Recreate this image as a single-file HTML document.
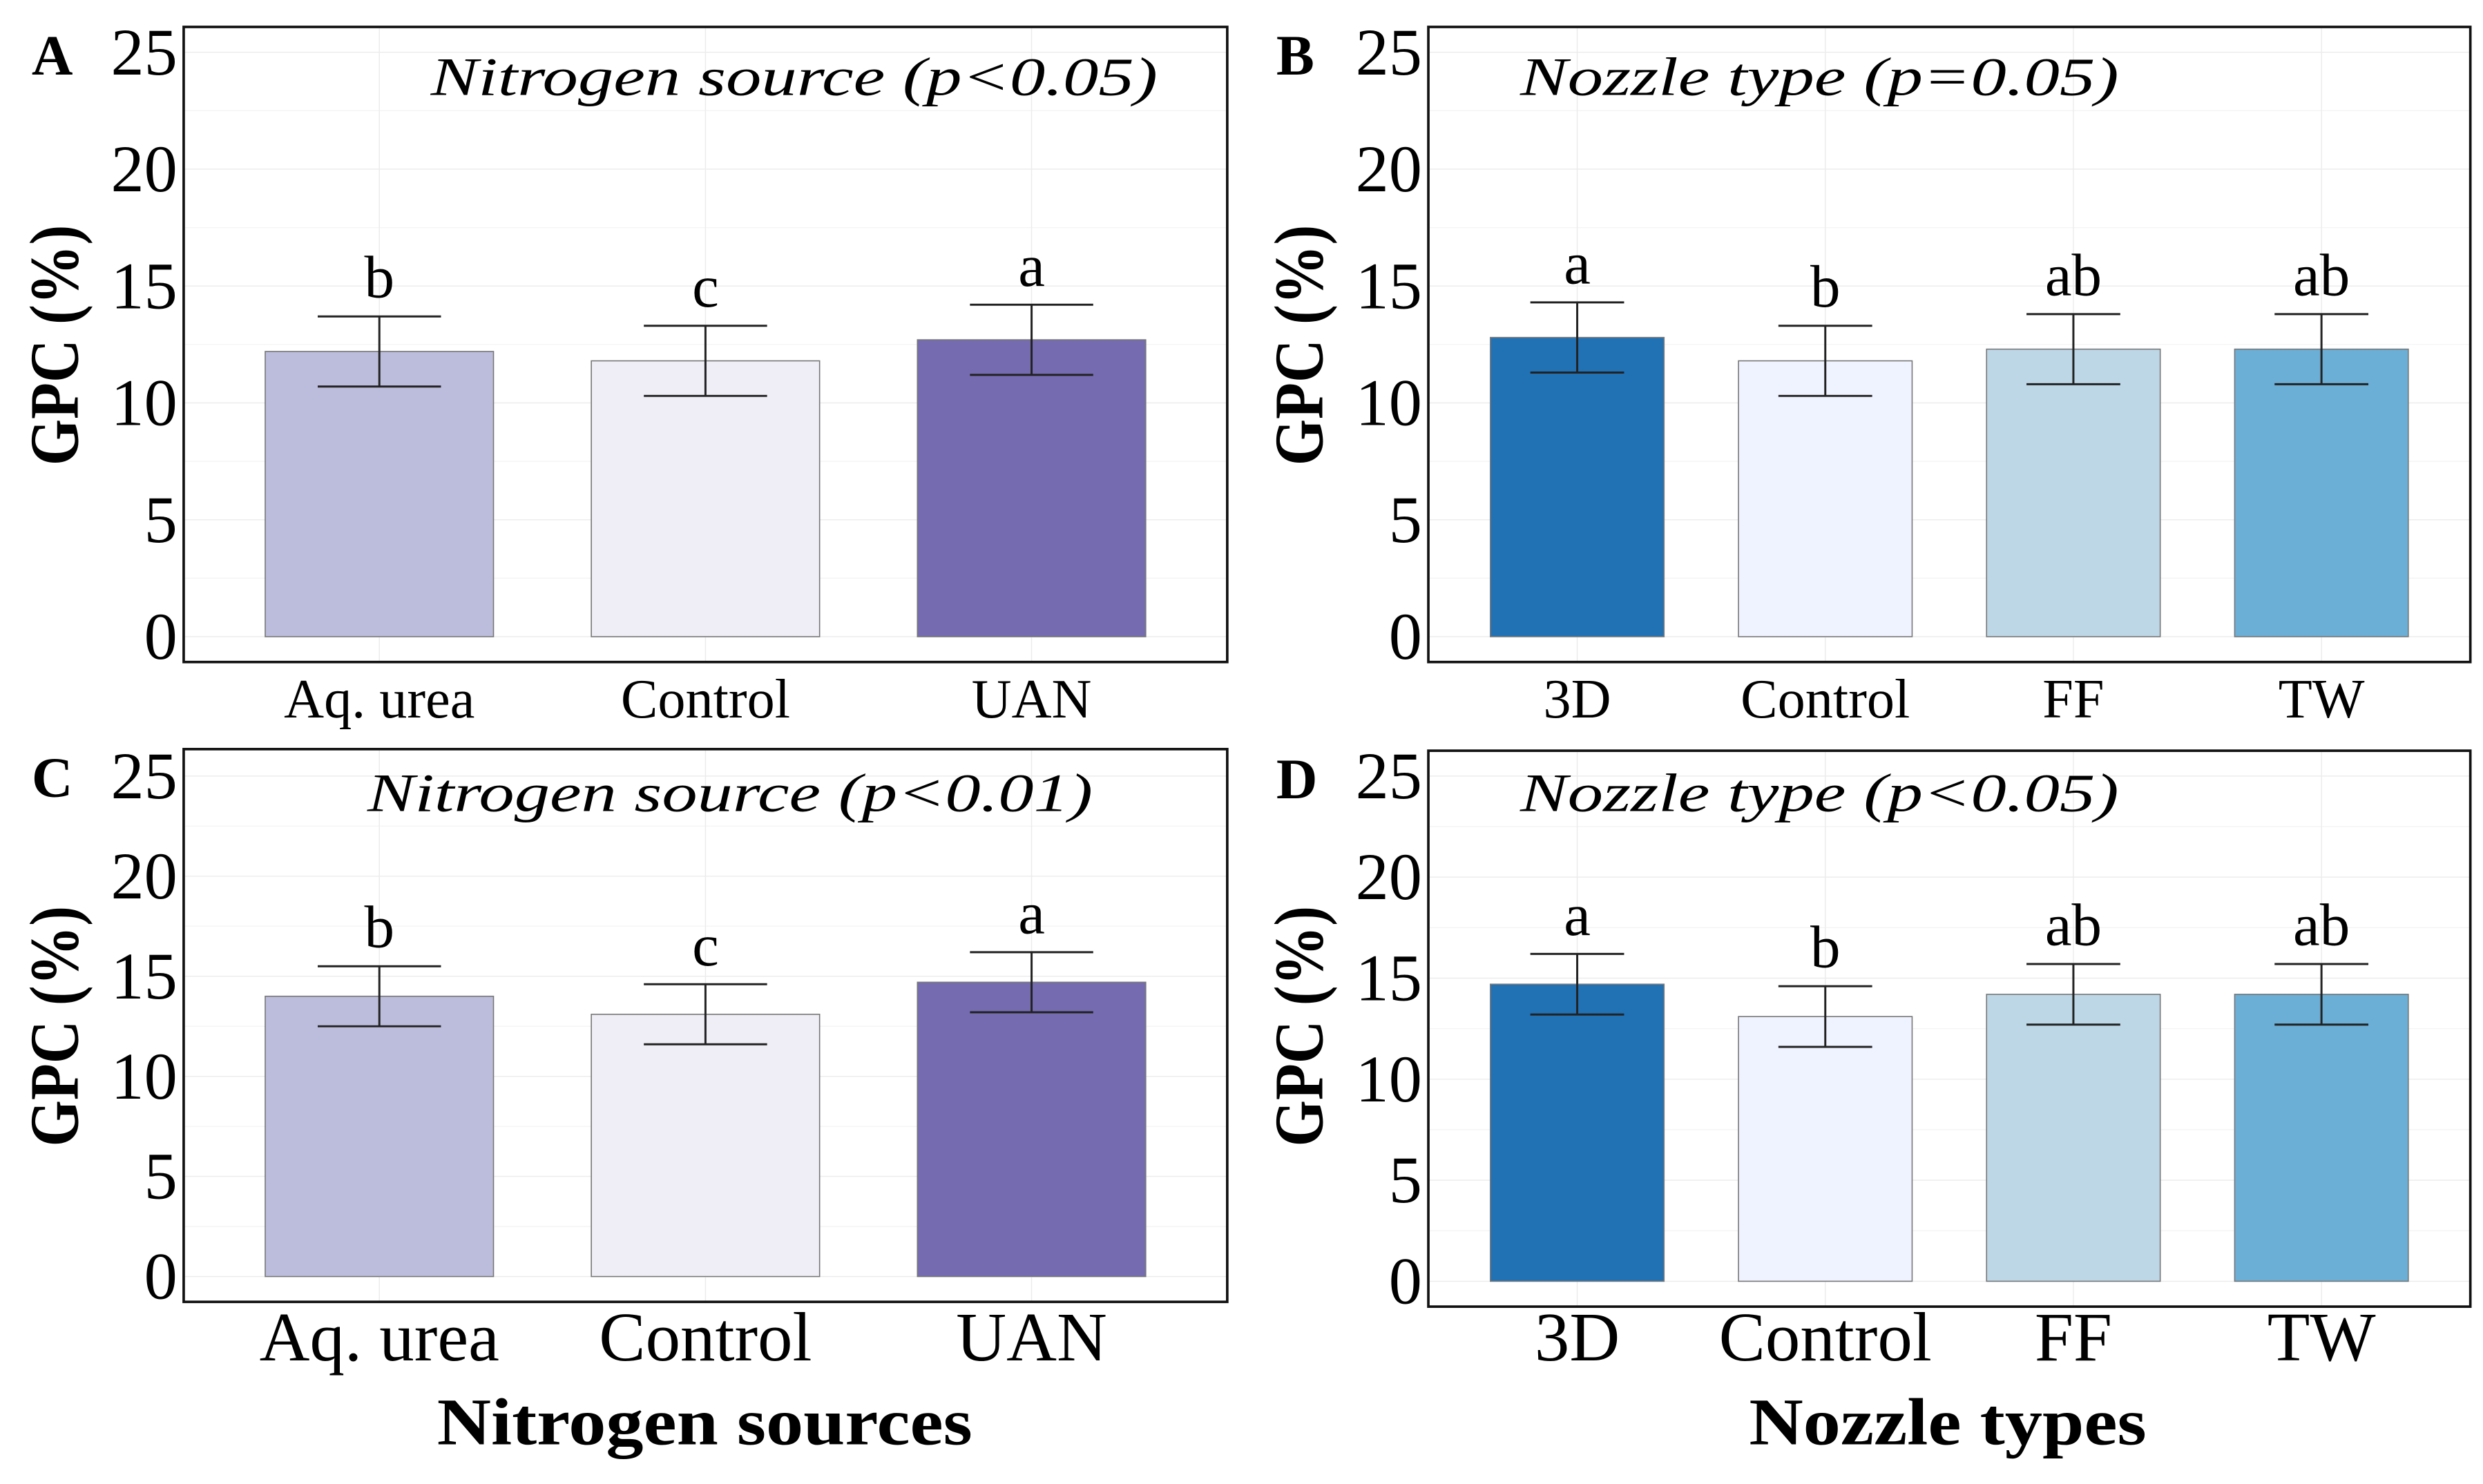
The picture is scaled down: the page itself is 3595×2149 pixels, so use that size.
<!DOCTYPE html>
<html><head><meta charset="utf-8"><style>
html,body{margin:0;padding:0;background:#fff}
svg{display:block}
text{font-family:"Liberation Serif",serif;fill:#000}
</style></head><body>
<svg id="fig" width="3595" height="2149" viewBox="0 0 1568 937" preserveAspectRatio="none" xmlns="http://www.w3.org/2000/svg"></svg>
<script>
const nCats = ["Aq. urea","Control","UAN"];
const zCats = ["3D","Control","FF","TW"];
const aVals = [12.2,11.8,12.7];
const aErr = [1.5,1.5,1.5];
const aLet = ["b","c","a"];
const bVals = [12.8,11.8,12.3,12.3];
const bErr = [1.5,1.5,1.5,1.5];
const bLet = ["a","b","ab","ab"];
const cVals = [14.0,13.1,14.7];
const cErr = [1.5,1.5,1.5];
const cLet = ["b","c","a"];
const dVals = [14.7,13.1,14.2,14.2];
const dErr = [1.5,1.5,1.5,1.5];
const dLet = ["a","b","ab","ab"];
const yTicks = [0,5,10,15,20,25];
const nColors = ["#bcbddc","#efedf5","#756bb1"];
const zColors = ["#2171b5","#eff3ff","#bdd7e7","#6baed6"];

const svg = document.getElementById('fig');
const NS = "http://www.w3.org/2000/svg";
function el(tag, attrs, parent){
  const e = document.createElementNS(NS, tag);
  for (const k in attrs) e.setAttribute(k, attrs[k]);
  (parent||svg).appendChild(e);
  return e;
}
function txt(s, attrs, parent){ const t = el('text', attrs, parent); t.textContent = s; return t; }

function panel(cfg){
  const g = el('g', {});
  
  
  const {x0,x1,top,bot,y0px,y25px} = cfg;
  const ys = v => y0px + (y25px - y0px) * v / 25;
  const n = cfg.cats.length;
  const step = (x1 - x0) / (n - 1 + 1.2);
  const xs = i => x0 + step * (0.6 + i);
  for (let v = 0; v <= 25; v += 2.5) {
    const gl = el('line', {x1:x0, x2:x1, y1:ys(v), y2:ys(v), stroke: v%5===0?'#ebebeb':'#f4f4f4', 'stroke-width':0.6}, g);
    
    
  }
  for (let i = 0; i < n; i++) {
    const vl = el('line', {x1:xs(i), x2:xs(i), y1:top, y2:bot, stroke:'#ebebeb', 'stroke-width':0.6}, g);
    
    
  }
  const bw = step * 0.7;
  for (let i = 0; i < n; i++) {
    const v = cfg.vals[i], e = cfg.err[i];
    const r = el('rect', {x:xs(i)-bw/2, y:ys(v), width:bw, height:ys(0)-ys(v), fill:cfg.colors[i], stroke:'#777', 'stroke-width':0.7}, g);
    
    
    const eg = el('g', {stroke:'#222', 'stroke-width':1.3}, g);
    
    
    const cw = bw * 0.27;
    el('line', {x1:xs(i), x2:xs(i), y1:ys(v-e), y2:ys(v+e)}, eg);
    el('line', {x1:xs(i)-cw, x2:xs(i)+cw, y1:ys(v+e), y2:ys(v+e)}, eg);
    el('line', {x1:xs(i)-cw, x2:xs(i)+cw, y1:ys(v-e), y2:ys(v-e)}, eg);
    const lt = txt(cfg.letters[i], {x:xs(i), y:ys(v+e)-12, 'text-anchor':'middle', 'font-size':38}, g);
    
    
    const xl = txt(cfg.cats[i], {x:xs(i), y:cfg.xlabY, 'text-anchor':'middle', 'font-size':cfg.xlabSize}, g);
    
    
  }
  const box = el('rect', {x:x0, y:top, width:x1-x0, height:bot-top, fill:'none', stroke:'#111', 'stroke-width':1.6}, g);
  
  
  for (const t of yTicks) {
    const yl = txt(String(t), {x:x0-4, y:ys(t)+14, 'text-anchor':'end', 'font-size':42}, g);
    
    
  }
  const yt = txt('GPC (%)', {x:0, y:0, 'text-anchor':'middle', 'font-size':44, 'font-weight':'bold', transform:`translate(${x0-67},${cfg.ytitleY}) rotate(-90)`, textLength:152, lengthAdjust:'spacingAndGlyphs'}, g);
  
  
  const pl = txt(cfg.id.toUpperCase(), {x:x0-96, y:top+30, 'font-size':36, 'font-weight':'bold'}, g);
  
  
  const ti = txt(cfg.title, {x:cfg.titleX, y:cfg.titleY, 'font-size':34, 'font-style':'italic', textLength:cfg.titleW, lengthAdjust:'spacingAndGlyphs'}, g);
  
  
}

panel({id:'a', cats:nCats, vals:aVals, err:aErr, letters:aLet, colors:nColors, x0:116, x1:775, top:17, bot:418, y0px:402, y25px:33, xlabY:453, xlabSize:35, ytitleY:218, title:'Nitrogen source (p<0.05)', titleX:272, titleY:60, titleW:459});
panel({id:'b', cats:zCats, vals:bVals, err:bErr, letters:bLet, colors:zColors, x0:902, x1:1560, top:17, bot:418, y0px:402, y25px:33, xlabY:453, xlabSize:35, ytitleY:218, title:'Nozzle type (p=0.05)', titleX:960, titleY:60, titleW:378});
panel({id:'c', cats:nCats, vals:cVals, err:cErr, letters:cLet, colors:nColors, x0:116, x1:775, top:473, bot:822, y0px:806, y25px:490, xlabY:859, xlabSize:44, ytitleY:648, title:'Nitrogen source (p<0.01)', titleX:232, titleY:512, titleW:458});
panel({id:'d', cats:zCats, vals:dVals, err:dErr, letters:dLet, colors:zColors, x0:902, x1:1560, top:474, bot:825, y0px:809, y25px:490, xlabY:859, xlabSize:44, ytitleY:648, title:'Nozzle type (p<0.05)', titleX:960, titleY:512, titleW:378});

const xt1 = txt('Nitrogen sources', {x:445, y:912, 'text-anchor':'middle', 'font-size':42, 'font-weight':'bold', textLength:338, lengthAdjust:'spacingAndGlyphs'});


const xt2 = txt('Nozzle types', {x:1230, y:912, 'text-anchor':'middle', 'font-size':42, 'font-weight':'bold', textLength:251, lengthAdjust:'spacingAndGlyphs'});


</script>
</body></html>
